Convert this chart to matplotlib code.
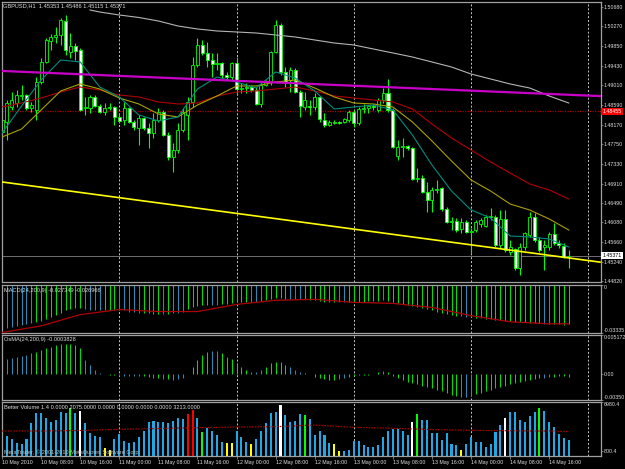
import matplotlib
matplotlib.use("Agg")
import matplotlib.pyplot as plt
import matplotlib.transforms as mtransforms

plt.rcParams['font.family'] = ['Liberation Sans Narrow', 'Liberation Sans', 'DejaVu Sans']

# ---- GBPUSD H1, 10-14 May 2010 (bar index 0 = 10 May 00:00) ----
opens = [1.48013, 1.48227, 1.48548, 1.48633, 1.48783, 1.48804, 1.48526, 1.48484, 1.49082, 1.49510,
         1.49959, 1.50045, 1.50088, 1.50387, 1.49724, 1.49852, 1.49767, 1.48526, 1.48526, 1.48762,
         1.48569, 1.48441, 1.48526, 1.48548, 1.48334, 1.48270, 1.48526, 1.48227, 1.48099, 1.48312,
         1.48099, 1.47992, 1.48270, 1.48441, 1.47949, 1.47478, 1.47628, 1.48056, 1.48377, 1.48655,
         1.49446, 1.49874, 1.49703, 1.49553, 1.49467, 1.49489, 1.49232, 1.49189, 1.49489, 1.48933,
         1.48954, 1.48975, 1.48911, 1.48612, 1.49018, 1.49082, 1.49724, 1.50301, 1.49296, 1.49125,
         1.49339, 1.48869, 1.48548, 1.48569, 1.48548, 1.48762, 1.48270, 1.48163, 1.48206, 1.48227,
         1.48227, 1.48270, 1.48441, 1.48206, 1.48505, 1.48526, 1.48569, 1.48484, 1.48697, 1.48847,
         1.48484, 1.47500, 1.47692, 1.47714, 1.47671, 1.47008, 1.47029, 1.46730, 1.46559, 1.46773,
         1.46815, 1.46366, 1.46088, 1.46110, 1.45939, 1.46088, 1.45874, 1.45917, 1.46046, 1.46003,
         1.46195, 1.46195, 1.45596, 1.46153, 1.45447, 1.45511, 1.45105, 1.45554, 1.45810, 1.46195,
         1.45703, 1.45554, 1.45554, 1.45832, 1.45639, 1.45575, 1.45353]
highs = [1.48334, 1.48697, 1.48869, 1.48911, 1.49018, 1.48826, 1.48655, 1.49189, 1.49596, 1.50023,
         1.50109, 1.50259, 1.50451, 1.50515, 1.50130, 1.49916, 1.49810, 1.48762, 1.48804, 1.48804,
         1.48612, 1.48633, 1.48633, 1.48569, 1.48398, 1.48655, 1.48548, 1.48270, 1.48377, 1.48334,
         1.48206, 1.48419, 1.48526, 1.48484, 1.48013, 1.47778, 1.48206, 1.48526, 1.48762, 1.49617,
         1.50023, 1.49981, 1.49938, 1.49703, 1.49703, 1.49510, 1.49296, 1.49510, 1.49617, 1.49061,
         1.49061, 1.49018, 1.48975, 1.49082, 1.49125, 1.49745, 1.50408, 1.50344, 1.49403, 1.49403,
         1.49382, 1.48911, 1.48869, 1.48697, 1.48847, 1.48783, 1.48419, 1.48270, 1.48270, 1.48248,
         1.48312, 1.48484, 1.48484, 1.48548, 1.48612, 1.48590, 1.48612, 1.48740, 1.48954, 1.49147,
         1.48526, 1.47842, 1.47885, 1.47735, 1.47692, 1.47243, 1.47093, 1.46944, 1.46837, 1.46987,
         1.46837, 1.46409, 1.46195, 1.46174, 1.46174, 1.46131, 1.45960, 1.46131, 1.46174, 1.46238,
         1.46388, 1.46238, 1.46345, 1.46345, 1.45703, 1.45532, 1.45639, 1.45874, 1.46302, 1.46281,
         1.45768, 1.45703, 1.45874, 1.46067, 1.45703, 1.45639, 1.45486]
lows = [1.47885, 1.47842, 1.48484, 1.48548, 1.48697, 1.48484, 1.48441, 1.48270, 1.49040, 1.49489,
        1.49767, 1.49916, 1.49874, 1.49660, 1.49596, 1.49553, 1.48462, 1.48377, 1.48419, 1.48548,
        1.48419, 1.48377, 1.48484, 1.48163, 1.48206, 1.48163, 1.48206, 1.48056, 1.47735, 1.48056,
        1.47671, 1.47885, 1.48227, 1.47928, 1.47414, 1.47158, 1.47564, 1.48013, 1.47842, 1.48548,
        1.49403, 1.49660, 1.49403, 1.49189, 1.49339, 1.49168, 1.49125, 1.49125, 1.48804, 1.48847,
        1.48847, 1.48869, 1.48590, 1.48548, 1.48997, 1.49018, 1.49703, 1.49232, 1.48975, 1.48869,
        1.48847, 1.48334, 1.48484, 1.48377, 1.48484, 1.48227, 1.48120, 1.48141, 1.48184, 1.48184,
        1.48206, 1.48227, 1.48120, 1.48163, 1.48419, 1.48419, 1.48484, 1.48441, 1.48633, 1.48441,
        1.47671, 1.47414, 1.47478, 1.47628, 1.46987, 1.46944, 1.46708, 1.46302, 1.46302, 1.46708,
        1.46324, 1.46067, 1.45917, 1.45874, 1.45853, 1.45853, 1.45425, 1.45874, 1.45981, 1.45981,
        1.46131, 1.45554, 1.45532, 1.45447, 1.45383, 1.45062, 1.44955, 1.45490, 1.45768, 1.45661,
        1.45447, 1.45062, 1.45490, 1.45596, 1.45532, 1.45320, 1.45115]
closes = [1.48270, 1.48633, 1.48697, 1.48804, 1.48804, 1.48526, 1.48590, 1.49082, 1.49510, 1.49981,
          1.50045, 1.50088, 1.50408, 1.49767, 1.49852, 1.49745, 1.48484, 1.48548, 1.48762, 1.48569,
          1.48441, 1.48526, 1.48548, 1.48334, 1.48248, 1.48526, 1.48227, 1.48120, 1.48312, 1.48099,
          1.47992, 1.48270, 1.48441, 1.47949, 1.47478, 1.47628, 1.48056, 1.48441, 1.48655, 1.49446,
          1.49874, 1.49703, 1.49553, 1.49467, 1.49489, 1.49232, 1.49189, 1.49489, 1.48933, 1.48954,
          1.48975, 1.48911, 1.48612, 1.49018, 1.49082, 1.49724, 1.50301, 1.49296, 1.49082, 1.49339,
          1.48869, 1.48569, 1.48697, 1.48548, 1.48762, 1.48291, 1.48163, 1.48227, 1.48227, 1.48206,
          1.48291, 1.48441, 1.48206, 1.48505, 1.48526, 1.48569, 1.48548, 1.48697, 1.48847, 1.48484,
          1.47692, 1.47692, 1.47714, 1.47671, 1.47008, 1.47029, 1.46730, 1.46559, 1.46773, 1.46794,
          1.46366, 1.46088, 1.46110, 1.45917, 1.46088, 1.45874, 1.45896, 1.46088, 1.46131, 1.46195,
          1.46217, 1.45596, 1.46153, 1.45490, 1.45554, 1.45105, 1.45554, 1.45853, 1.46195, 1.45703,
          1.45490, 1.45596, 1.45832, 1.45639, 1.45596, 1.45340, 1.45371]

# moving averages, read every 4 bars
ma_bars = list(range(0, 117, 4))
ma_fast = [1.47992, 1.48569, 1.49125, 1.49553, 1.49510, 1.48975, 1.48762, 1.48377, 1.48248, 1.48334,
           1.48933, 1.49189, 1.49082, 1.48954, 1.49296, 1.49168, 1.48890, 1.48505, 1.48548, 1.48590,
           1.48484, 1.47949, 1.47307, 1.46751, 1.46345, 1.46174, 1.45789, 1.45768, 1.45725, 1.45554]
ma_mid = [1.47906, 1.48077, 1.48484, 1.48890, 1.49040, 1.48933, 1.48740, 1.48612, 1.48398, 1.48334,
          1.48590, 1.48783, 1.48997, 1.48997, 1.49082, 1.49125, 1.48954, 1.48762, 1.48633, 1.48612,
          1.48548, 1.48227, 1.47821, 1.47393, 1.46987, 1.46751, 1.46473, 1.46345, 1.46153, 1.45917]
ma_slow = [1.48548, 1.48633, 1.48740, 1.48869, 1.48975, 1.48911, 1.48804, 1.48762, 1.48655, 1.48612,
           1.48633, 1.48783, 1.48869, 1.48890, 1.48933, 1.48975, 1.48890, 1.48783, 1.48740, 1.48697,
           1.48655, 1.48505, 1.48184, 1.47885, 1.47628, 1.47372, 1.47136, 1.46901, 1.46773, 1.46580]
ma200_bars = [18] + list(range(20, 117, 4))
ma200 = [1.50622, 1.50579, 1.50515, 1.50462, 1.50387, 1.50280, 1.50216, 1.50173, 1.50152, 1.50130,
         1.50088, 1.50045, 1.49981, 1.49916, 1.49874, 1.49788, 1.49703, 1.49617, 1.49510, 1.49403,
         1.49253, 1.49147, 1.49040, 1.48954, 1.48783, 1.48633]

# trend lines (end points) and levels
magenta_x = [-0.4, 122.6]
magenta_y = [1.4932, 1.4878]
yellow_x = [-0.4, 122.4]
yellow_y = [1.4695, 1.4523]
red_level = 1.48455
bid = 1.45371
price_ticks = [1.50680, 1.50270, 1.49850, 1.49430, 1.49010, 1.48590, 1.48170, 1.47750,
               1.47330, 1.46910, 1.46490, 1.46080, 1.45660, 1.45240, 1.44820]

# MACD(24,200,9)
macd = [-0.0298, -0.0298, -0.0291, -0.0284, -0.0277, -0.0270, -0.0263, -0.0256, -0.0248, -0.0234,
        -0.0220, -0.0206, -0.0192, -0.0177, -0.0170, -0.0163, -0.0163, -0.0170, -0.0177, -0.0177,
        -0.0177, -0.0177, -0.0177, -0.0177, -0.0177, -0.0177, -0.0185, -0.0185, -0.0192, -0.0192,
        -0.0192, -0.0199, -0.0199, -0.0199, -0.0199, -0.0192, -0.0192, -0.0185, -0.0170, -0.0156,
        -0.0149, -0.0142, -0.0142, -0.0142, -0.0142, -0.0135, -0.0135, -0.0128, -0.0121, -0.0121,
        -0.0121, -0.0121, -0.0121, -0.0114, -0.0106, -0.0099, -0.0092, -0.0092, -0.0099, -0.0099,
        -0.0099, -0.0099, -0.0099, -0.0106, -0.0106, -0.0114, -0.0121, -0.0121, -0.0121, -0.0121,
        -0.0121, -0.0121, -0.0121, -0.0121, -0.0121, -0.0114, -0.0114, -0.0114, -0.0106, -0.0114,
        -0.0121, -0.0128, -0.0135, -0.0142, -0.0149, -0.0156, -0.0163, -0.0170, -0.0177, -0.0185,
        -0.0192, -0.0199, -0.0206, -0.0213, -0.0213, -0.0220, -0.0220, -0.0227, -0.0227, -0.0234,
        -0.0234, -0.0241, -0.0241, -0.0248, -0.0248, -0.0256, -0.0256, -0.0256, -0.0263, -0.0263,
        -0.0263, -0.0270, -0.0270, -0.0270, -0.0270, -0.0277, -0.027349]
signal_bars = list(range(0, 117, 8)) + [116]
signal = [-0.0330, -0.02838, -0.02058, -0.01703, -0.01845, -0.01845, -0.01348, -0.01064,
          -0.00993, -0.01206, -0.01277, -0.01561, -0.02129, -0.02555, -0.02696, -0.026966]
falling_bars = [0, 1, 2, 3, 4, 5, 6, 17, 18, 19, 20, 24, 25, 26, 27, 28, 31, 33, 35, 36, 37,
                43, 44, 51, 52, 53, 59, 60, 61, 69, 70, 78, 94, 95, 96, 111, 112]

# OsMA(24,200,9)
osma = [0.00171, 0.00197, 0.00211, 0.00224, 0.00237, 0.00251, 0.00278, 0.00291, 0.00318, 0.00344,
        0.00358, 0.00384, 0.00398, 0.00398, 0.00398, 0.00384, 0.00344, 0.00184, 0.00117, 0.00051,
        0.00011, -0.00003, -0.00016, -0.00016, -0.00029, -0.00029, -0.00029, -0.00029, -0.00029, -0.00029,
        -0.00043, -0.00056, -0.00056, -0.00069, -0.00069, -0.00083, -0.00069, -0.00056, -0.00003, 0.00091,
        0.00184, 0.00251, 0.00291, 0.00304, 0.00304, 0.00278, 0.00224, 0.00197, 0.00144, 0.00091,
        0.00051, 0.00024, 0.00024, 0.00051, 0.00091, 0.00144, 0.00157, 0.00157, 0.00117, 0.00091,
        0.00051, 0.00024, 0.00011, -0.00003, -0.00043, -0.00056, -0.00069, -0.00083, -0.00083, -0.00069,
        -0.00056, -0.00043, -0.00029, -0.00016, -0.00016, -0.00016, -0.00003, 0.00024, 0.00037, 0.00024,
        -0.00029, -0.00056, -0.00083, -0.00109, -0.00123, -0.00136, -0.00163, -0.00176, -0.00189, -0.00216,
        -0.00229, -0.00256, -0.00283, -0.00296, -0.00310, -0.00310, -0.00296, -0.00270, -0.00256, -0.00229,
        -0.00216, -0.00189, -0.00176, -0.00163, -0.00136, -0.00123, -0.00109, -0.00096, -0.00083, -0.00069,
        -0.00056, -0.00056, -0.00043, -0.00043, -0.00029, -0.00029, -0.0003828]

# Better Volume 1.4
volume = [3068, 2686, 2266, 1718, 1591, 2228, 4266, 5540, 5540, 4903,
          4470, 4686, 5706, 5540, 6177, 5616, 5871, 4342, 2992, 2648,
          2559, 1081, 864, 2228, 2865, 2049, 1794, 1922, 2559, 3323,
          4393, 4559, 4393, 4393, 4266, 4559, 4903, 4814, 5413, 5960,
          4979, 3119, 3705, 3285, 2775, 1922, 1820, 1820, 3323, 2559,
          1845, 1591, 2228, 3349, 4304, 5540, 5744, 6597, 5323, 4432,
          4559, 5451, 5323, 4776, 2775, 3247, 2839, 1718, 1591, 737,
          737, 928, 1973, 1973, 1565, 1310, 1310, 1438, 2521, 3285,
          3565, 3565, 3285, 2775, 4470, 5413, 4686, 4750, 2992, 2992,
          2138, 3068, 1629, 1501, 864, 1629, 2482, 1922, 1922, 1285,
          1591, 3196, 4049, 4903, 5744, 5744, 4686, 4393, 5196, 5744,
          6177, 5833, 4470, 3833, 2865, 2355, 2075]
vol_green = [14, 41, 62, 85, 110]
vol_white = [16, 57, 84, 103]
vol_red = [38, 39]
vol_yellow = [21, 22, 46, 47, 51, 68, 69, 94]
vol_avg_bars = list(range(0, 117, 8)) + [116]
vol_avg = [3285, 3285, 3349, 3502, 3604, 3705, 3795, 3833, 4049, 3756, 3629, 3476, 3374, 3310, 3285, 3213]

time_labels = ["10 May 2010", "10 May 08:00", "10 May 16:00", "11 May 00:00", "11 May 08:00",
               "11 May 16:00", "12 May 00:00", "12 May 08:00", "12 May 16:00", "13 May 00:00",
               "13 May 08:00", "13 May 16:00", "14 May 00:00", "14 May 08:00", "14 May 16:00"]
day_starts = [24, 48, 72, 96, 120]

# ---- figure ----
W, H = 625, 469
fig = plt.figure(figsize=(W / 100, H / 100), dpi=100, facecolor="black")
txt = "#e0e0e0"
fs = 4.1       # header / panel titles
fs_ax = 3.8    # right-hand scale and time axis


def panel(top, bottom):
    ax = fig.add_axes([2 / W, 1 - bottom / H, 599 / W, (bottom - top) / H])
    ax.set_facecolor("black")
    for s in ax.spines.values():
        s.set_color("#a0a0a0")
        s.set_linewidth(0.9)
    ax.set_xlim(-0.01, 122.6)
    ax.yaxis.tick_right()
    ax.tick_params(axis="y", colors="#a0a0a0", labelcolor=txt, labelsize=fs_ax, length=1.3, width=0.5, pad=0.5)
    ax.tick_params(axis="x", bottom=False, labelbottom=False)
    for d in day_starts:
        ax.axvline(d, color="#c8c8c8", lw=0.7, ls=(0, (2, 2)), zorder=1)
    return ax


ax = panel(2, 282)
ax_macd = panel(285, 333)
ax_osma = panel(335, 400)
ax_vol = panel(402, 456)

# main chart
ax.set_ylim(1.44805, 1.50793)
ax.set_yticks(price_ticks)
ax.set_yticklabels([f"{p:.5f}" for p in price_ticks])

bars = list(range(len(closes)))
ax.axhline(red_level, color="#a00000", lw=0.9, ls=(0, (1, 1)), zorder=1)
ax.axhline(bid, color="#707070", lw=0.7, zorder=1)

ax.vlines(bars, lows, highs, color="#00ff00", lw=0.8, zorder=2)
bodies = [max(abs(c - o), 0.00003) for o, c in zip(opens, closes)]
bottoms = [min(o, c) for o, c in zip(opens, closes)]
faces = ["black" if c >= o else "white" for o, c in zip(opens, closes)]
ax.bar(bars, bodies, bottom=bottoms, width=0.62, color=faces, edgecolor="#00ff00", linewidth=0.6, zorder=2.5)

ax.plot(ma200_bars, ma200, color="#b4b4b4", lw=0.8, zorder=3)
ax.plot(ma_bars, ma_slow, color="#b00000", lw=0.8, zorder=3)
ax.plot(ma_bars, ma_mid, color="#a8a000", lw=0.8, zorder=3)
ax.plot(ma_bars, ma_fast, color="#008c80", lw=0.8, zorder=3)
ax.plot(magenta_x, magenta_y, color="#c800c8", lw=1.6, zorder=3)
ax.plot(yellow_x, yellow_y, color="#ffff00", lw=1.2, zorder=3)

blend = mtransforms.blended_transform_factory(ax.transAxes, ax.transData)
ax.text(1.003, red_level, f"{red_level:.5f}", transform=blend, ha="left", va="center", fontsize=fs_ax,
        color="white", bbox=dict(boxstyle="square,pad=0.25", fc="#ff0000", ec="none"), zorder=5, clip_on=False)
ax.text(1.003, bid, f"{bid:.5f}", transform=blend, ha="left", va="center", fontsize=fs_ax,
        color="black", bbox=dict(boxstyle="square,pad=0.25", fc="white", ec="none"), zorder=5, clip_on=False)

# MACD
macd_cols = ["#2a8cb4" if i in falling_bars else "#00e000" for i in bars]
ax_macd.set_ylim(-0.03335, 0.0)
ax_macd.vlines(bars, macd, 0, colors=macd_cols, lw=0.75, zorder=2)
ax_macd.plot(signal_bars, signal, color="#b00000", lw=0.9, zorder=3)
ax_macd.set_yticks([0.0, -0.03335])
ax_macd.set_yticklabels(["0", "-0.03335"])
tl = ax_macd.get_yticklabels()
tl[0].set_va("top")
tl[1].set_va("bottom")

# OsMA
ax_osma.set_ylim(-0.00350, 0.005172)
ax_osma.vlines(bars, 0, osma, colors=macd_cols, lw=0.75, zorder=2)
ax_osma.set_yticks([0.005172, 0.0, -0.00350])
ax_osma.set_yticklabels(["0.005172", "0.00", "-0.00350"])
tl = ax_osma.get_yticklabels()
tl[0].set_va("top")
tl[2].set_va("bottom")

# Better Volume
vcols = []
for i in bars:
    if i in vol_green:
        vcols.append("#00ff00")
    elif i in vol_white:
        vcols.append("#ffffff")
    elif i in vol_red:
        vcols.append("#ff0000")
    elif i in vol_yellow:
        vcols.append("#ffff00")
    else:
        vcols.append("#1ea8e6")
ax_vol.set_ylim(100, 6980.4)
ax_vol.bar(bars, volume, width=0.42, color=vcols, zorder=2)
ax_vol.plot(vol_avg_bars, vol_avg, color="#b00000", lw=0.8, ls=(0, (1.5, 1)), zorder=3)
ax_vol.set_yticks([6980.4, 800.4])
ax_vol.set_yticklabels(["6980.4", "800.4"])
ax_vol.get_yticklabels()[0].set_va("top")

ax_vol.tick_params(axis="x", bottom=True, labelbottom=True, colors="#a0a0a0", labelcolor=txt,
                   labelsize=fs_ax, length=2, width=0.5, pad=1)
ax_vol.set_xticks(list(range(0, 117, 8)))
ax_vol.set_xticklabels(time_labels, ha="left")


def label(x, y, s, color=txt):
    fig.text(x / W, 1 - y / H, s, ha="left", va="center", fontsize=fs, color=color)


label(3, 6, "GBPUSD,H1  1.45353 1.45486 1.45115 1.45371")
label(4, 290, "MACD(24,200,9) -0.027349 -0.026966")
label(4, 340, "OsMA(24,200,9) -0.0003828")
label(4, 407, "Better Volume 1.4 0.0000 2075.0000 0.0000 0.0000 0.0000 0.0000 3213.0000")
label(4, 452, "MetaTrader, \u00a9 2001-2010 MetaQuotes Software Corp.", "#c0c0c0")

fig.savefig("out.png", dpi=100, facecolor="black")
plt.close()
